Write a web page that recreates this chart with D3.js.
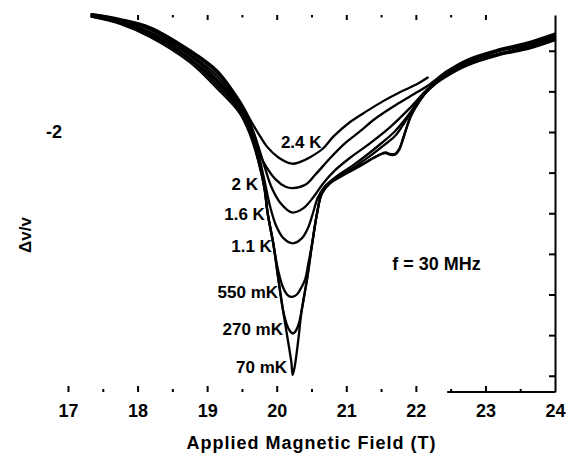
<!DOCTYPE html>
<html><head><meta charset="utf-8">
<script src="https://cdn.jsdelivr.net/npm/d3@7"></script>
<style>html,body{margin:0;padding:0;background:#fff;} svg{display:block;}</style>
</head><body>
<svg id="chart" width="571" height="455"></svg>
<script>
// ---- data (field in T, Δv/v in arbitrary units) ----
const temperatures = ["2.4 K","2 K","1.6 K","1.1 K","550 mK","270 mK","70 mK"];

const curve_2_4K = [[17.34,-0.55],[17.75,-0.61],[18.18,-0.71],[18.75,-0.99],[19.14,-1.24],[19.47,-1.62],[19.64,-1.88],[19.76,-2.05],[19.86,-2.18],[20.02,-2.31],[20.22,-2.39],[20.33,-2.37],[20.48,-2.31],[20.67,-2.20],[20.81,-2.06],[21.05,-1.88],[21.30,-1.74],[21.53,-1.62],[21.77,-1.51],[22.02,-1.41],[22.17,-1.33]];
const curve_2K = [[17.34,-0.55],[17.75,-0.62],[18.18,-0.73],[18.75,-1.01],[19.14,-1.27],[19.47,-1.64],[19.59,-1.83],[19.69,-2.06],[19.76,-2.28],[19.85,-2.43],[19.98,-2.58],[20.12,-2.67],[20.23,-2.69],[20.41,-2.65],[20.56,-2.52],[20.77,-2.32],[20.98,-2.14],[21.20,-1.99],[21.41,-1.84],[21.67,-1.69],[21.92,-1.56],[22.17,-1.43],[22.45,-1.25],[22.74,-1.11],[23.17,-0.99],[23.64,-0.89],[24.00,-0.79]];
const curve_1_6K = [[17.34,-0.56],[17.75,-0.63],[18.18,-0.74],[18.75,-1.04],[19.14,-1.31],[19.47,-1.67],[19.62,-1.91],[19.73,-2.16],[19.83,-2.44],[19.93,-2.69],[20.05,-2.87],[20.22,-2.99],[20.38,-2.94],[20.52,-2.81],[20.67,-2.63],[20.84,-2.47],[21.05,-2.32],[21.34,-2.14],[21.63,-1.94],[21.92,-1.70],[22.17,-1.47],[22.45,-1.26],[22.74,-1.13],[23.17,-1.00],[23.64,-0.90],[24.00,-0.81]];
const curve_1_1K = [[17.34,-0.57],[17.75,-0.64],[18.18,-0.77],[18.75,-1.06],[19.14,-1.35],[19.47,-1.69],[19.62,-1.95],[19.73,-2.25],[19.83,-2.62],[19.90,-2.90],[19.99,-3.15],[20.10,-3.31],[20.23,-3.37],[20.36,-3.31],[20.45,-3.18],[20.52,-3.00],[20.59,-2.81],[20.69,-2.67],[20.87,-2.54],[21.08,-2.42],[21.30,-2.28],[21.53,-2.12],[21.70,-1.99],[21.84,-1.85],[21.99,-1.68],[22.17,-1.48],[22.45,-1.27],[22.74,-1.14],[23.17,-1.01],[23.64,-0.92],[24.00,-0.82]];
const curve_550mK = [[17.34,-0.57],[17.75,-0.65],[18.18,-0.79],[18.75,-1.09],[19.14,-1.38],[19.47,-1.72],[19.62,-1.99],[19.73,-2.31],[19.82,-2.65],[19.87,-3.00],[19.95,-3.37],[20.02,-3.70],[20.09,-3.91],[20.16,-4.01],[20.22,-4.03],[20.29,-4.00],[20.35,-3.92],[20.41,-3.81],[20.45,-3.64],[20.51,-3.37],[20.58,-3.00],[20.65,-2.76],[20.77,-2.63],[20.98,-2.52],[21.20,-2.42],[21.41,-2.31],[21.56,-2.26],[21.63,-2.28],[21.70,-2.28],[21.76,-2.22],[21.83,-2.05],[21.93,-1.80],[22.06,-1.61],[22.20,-1.46],[22.45,-1.29],[22.74,-1.15],[23.17,-1.04],[23.64,-0.94],[24.00,-0.84]];
const curve_270mK = [[17.34,-0.58],[17.75,-0.66],[18.18,-0.81],[18.75,-1.11],[19.14,-1.42],[19.47,-1.74],[19.62,-2.01],[19.73,-2.33],[19.82,-2.67],[19.87,-3.00],[19.95,-3.37],[20.02,-3.79],[20.09,-4.19],[20.15,-4.38],[20.19,-4.45],[20.23,-4.48],[20.28,-4.44],[20.32,-4.35],[20.36,-4.19],[20.44,-3.79],[20.51,-3.37],[20.58,-3.00],[20.65,-2.75],[20.79,-2.60],[21.01,-2.49],[21.27,-2.34],[21.53,-2.17],[21.70,-2.05],[21.84,-1.88],[22.02,-1.64],[22.20,-1.47],[22.45,-1.30],[22.74,-1.16],[23.17,-1.05],[23.64,-0.95],[24.00,-0.85]];
const curve_70mK = [[17.34,-0.58],[17.75,-0.67],[18.18,-0.83],[18.75,-1.14],[19.14,-1.46],[19.47,-1.77],[19.62,-2.04],[19.73,-2.34],[19.82,-2.68],[19.87,-3.00],[19.95,-3.37],[20.02,-3.79],[20.09,-4.19],[20.16,-4.56],[20.21,-4.83],[20.23,-4.99],[20.26,-4.88],[20.31,-4.56],[20.36,-4.19],[20.44,-3.79],[20.51,-3.37],[20.58,-3.00],[20.65,-2.74],[20.77,-2.62],[20.98,-2.50],[21.20,-2.41],[21.41,-2.31],[21.56,-2.25],[21.63,-2.27],[21.70,-2.27],[21.76,-2.21],[21.83,-2.04],[21.93,-1.80],[22.06,-1.61],[22.20,-1.46],[22.45,-1.31],[22.74,-1.18],[23.17,-1.06],[23.64,-0.97],[24.00,-0.87]];

// where each temperature label sits (field, Δv/v)
const labelFields = [20.06, 19.73, 19.83, 19.93, 20.02, 20.09, 20.15];
const labelValues = [-2.20, -2.71, -3.08, -3.48, -4.04, -4.50, -4.96];

const xTickLabels = [17,18,19,20,21,22,23,24];
const xMinorTicks = [17.5,18.5,19.5,20.5,21.5,22.5,23.5];
const xTopMajor = [18,19,20,21,22,23];
const xTopMinor = [18.5,19.5,20.5,21.5,22.5];
const yTicks = [-1,-1.5,-2,-2.5,-3,-3.5,-4,-4.5,-5];
const yTickLabels = [-2];

// ---- drawing ----
const curves = [curve_2_4K, curve_2K, curve_1_6K, curve_1_1K, curve_550mK, curve_270mK, curve_70mK];
const font = "'Liberation Sans', Arial, Helvetica, sans-serif";
const svg = d3.select("#chart");
const x = d3.scaleLinear().domain([17,24]).range([68,555]);
const y = d3.scaleLinear().domain([-5.2,-0.56]).range([392,15]);

function styleAxis(g){
  g.selectAll("line").attr("stroke","#000").attr("stroke-width",2);
  g.selectAll("path.domain").attr("stroke","#000").attr("stroke-width",2);
  g.selectAll("text").attr("fill","#000").attr("font-family",font)
    .attr("font-weight","bold").attr("font-size",18);
}

// bottom axis: integer ticks with labels (ticks pointing inward)
svg.append("g").attr("transform",`translate(0,${y(-5.2)})`)
  .call(d3.axisBottom(x).tickValues(xTickLabels.filter(v=>v<24)).tickSize(-6).tickPadding(12).tickFormat(d3.format("d")))
  .call(g=>g.select(".domain").remove()).call(styleAxis);
svg.append("g").attr("transform",`translate(0,${y(-5.2)})`)
  .call(d3.axisBottom(x).tickValues([24]).tickSize(0).tickPadding(12).tickFormat(d3.format("d")))
  .call(g=>g.select(".domain").remove()).call(styleAxis);
svg.append("g").attr("transform",`translate(0,${y(-5.2)})`)
  .call(d3.axisBottom(x).tickValues(xMinorTicks).tickSize(-3).tickFormat(""))
  .call(g=>g.select(".domain").remove()).call(styleAxis);
// partial bottom frame line
svg.append("line").attr("x1",x(22.45)).attr("x2",x(24)).attr("y1",y(-5.2)).attr("y2",y(-5.2))
  .attr("stroke","#000").attr("stroke-width",2);

// top ticks
svg.append("g").attr("transform",`translate(0,${y(-0.56)})`)
  .call(d3.axisTop(x).tickValues(xTopMajor).tickSize(-5).tickFormat(""))
  .call(g=>g.select(".domain").remove()).call(styleAxis);
svg.append("g").attr("transform",`translate(0,${y(-0.56)})`)
  .call(d3.axisTop(x).tickValues(xTopMinor).tickSize(-2.5).tickFormat(""))
  .call(g=>g.select(".domain").remove()).call(styleAxis);

// right axis
svg.append("g").attr("transform",`translate(${x(24)},0)`)
  .call(d3.axisRight(y).tickValues(yTicks).tickSize(-6).tickSizeOuter(0).tickFormat(""))
  .call(styleAxis);

// left label only
svg.append("g").attr("transform",`translate(65,0)`)
  .call(d3.axisLeft(y).tickValues(yTickLabels).tickSize(0).tickPadding(3).tickFormat(d=>d3.format("d")(d).replace("−","-")))
  .call(g=>g.select(".domain").remove()).call(styleAxis);

// curves
const line = d3.line().x(d=>x(d[0])).y(d=>y(d[1])).curve(d3.curveCatmullRom.alpha(0.5));
svg.append("g").selectAll("path").data(curves).join("path")
  .attr("d",line).attr("fill","none").attr("stroke","#000")
  .attr("stroke-width",2.3).attr("stroke-linejoin","round").attr("stroke-linecap","round");

// temperature labels
svg.append("g").selectAll("text").data(temperatures).join("text")
  .attr("x",(d,i)=>x(labelFields[i])).attr("y",(d,i)=>y(labelValues[i]))
  .attr("text-anchor",(d,i)=>i===0?"start":"end")
  .attr("font-family",font).attr("font-weight","bold").attr("font-size",17)
  .text(d=>d);

// frequency note
svg.append("text").attr("x",x(21.66)).attr("y",y(-3.70))
  .attr("font-family",font).attr("font-weight","bold").attr("font-size",18)
  .text("f = 30 MHz");

// axis titles
svg.append("text").attr("x",(x(17)+x(24))/2).attr("y",449).attr("text-anchor","middle")
  .attr("font-family",font).attr("font-weight","bold").attr("font-size",18).attr("letter-spacing",1)
  .text("Applied Magnetic Field (T)");
svg.append("text").attr("transform","translate(31,235) rotate(-90)").attr("text-anchor","middle")
  .attr("font-family",font).attr("font-weight","bold").attr("font-size",17)
  .text("Δv/v");
</script></body></html>
